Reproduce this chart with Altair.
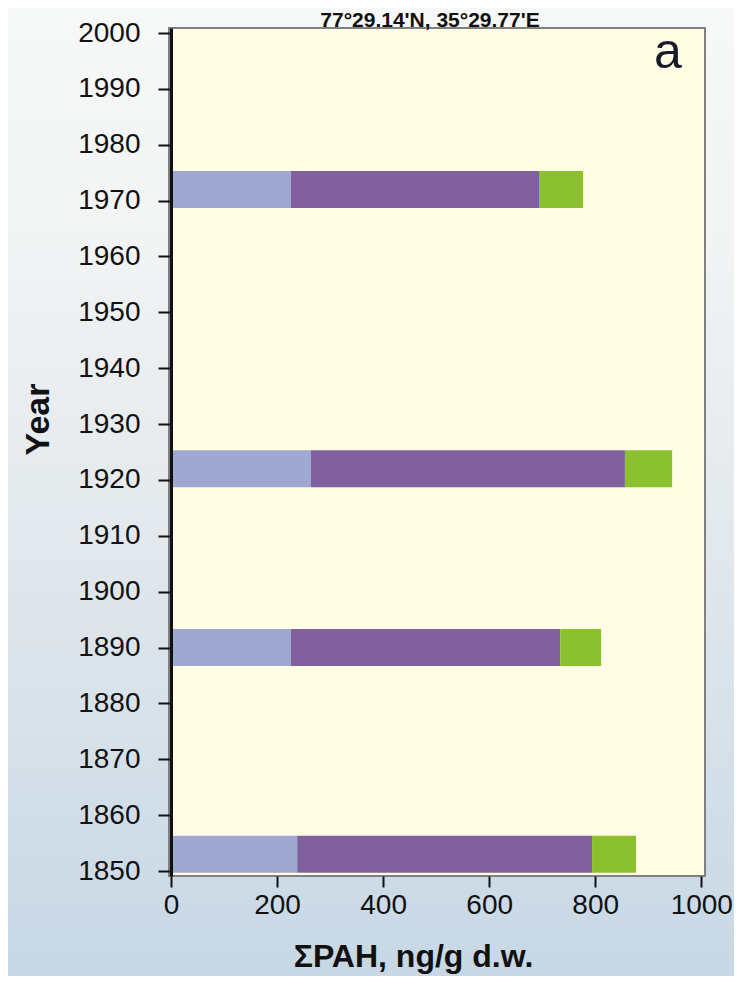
import altair as alt
import pandas as pd

# ---- data ----
years = [1972, 1922, 1890, 1853]
components = ["2-3 ring", "4 ring", "5-6 ring"]
light_vals = [226, 264, 226, 238]
purple_vals = [468, 592, 508, 556]
green_vals = [83, 89, 77, 83]
comp_colors = ["#9FA9CF", "#80619E", "#8BC02F"]
x_ticks = [0, 200, 400, 600, 800, 1000]
y_ticks = list(range(1850, 2001, 10))
title_text = "77°29.14'N, 35°29.77'E"
panel_label = "a"

rows = []
for i, yr in enumerate(years):
    start = 0
    for comp, vals in zip(components, [light_vals, purple_vals, green_vals]):
        rows.append({"year": yr, "component": comp, "start": start, "end": start + vals[i]})
        start += vals[i]
df = pd.DataFrame(rows)

W, H = 534, 848
FONT = "Liberation Sans"
one = alt.Data(values=[{}])

bg = alt.Chart(one).mark_rect(
    color=alt.Gradient(
        gradient="linear",
        stops=[
            alt.GradientStop(color="#F7F8F8", offset=0),
            alt.GradientStop(color="#F1F3F4", offset=0.25),
            alt.GradientStop(color="#E2E8EC", offset=0.55),
            alt.GradientStop(color="#C6D7E5", offset=1),
        ],
        x1=0, x2=0, y1=0, y2=1,
    )
).encode(x=alt.value(-175), x2=alt.value(570), y=alt.value(-25), y2=alt.value(960))

plotbg = alt.Chart(one).mark_rect(
    fill="#FFFDE3", stroke="#808080", strokeWidth=2
).encode(x=alt.value(-2), x2=alt.value(W), y=alt.value(0), y2=alt.value(H))

bars = alt.Chart(df).mark_bar(size=37, clip=True).encode(
    x=alt.X(
        "start:Q",
        scale=alt.Scale(domain=[0, 1007], nice=False, zero=False),
        axis=alt.Axis(
            values=x_ticks, format="d", title="ΣPAH, ng/g d.w.",
            labelFont=FONT, labelFontSize=28, labelColor="#111111",
            labelPadding=4, labelFlush=False, labelOverlap=False,
            tickSize=11, tickWidth=2, tickColor="#111111",
            domain=False, grid=False,
            titleFont=FONT, titleFontSize=32, titleFontWeight="bold", titleColor="#111111",
            titleX=242, titleY=90, titleBaseline="alphabetic", titleAlign="center",
            zindex=1,
        ),
    ),
    x2="end:Q",
    y=alt.Y(
        "year:Q",
        scale=alt.Scale(domain=[1850, 2000], nice=False, zero=False),
        axis=alt.Axis(
            values=y_ticks, format="d", title="Year",
            labelFont=FONT, labelFontSize=28, labelColor="#111111",
            labelPadding=18, labelFlush=False, labelOverlap=False,
            tickSize=13, tickWidth=2, tickColor="#111111",
            domain=True, domainColor="#111111", domainWidth=3,
            grid=False,
            titleFont=FONT, titleFontSize=34, titleFontWeight="bold", titleColor="#111111",
            titleAngle=270, titleX=-123, titleY=391, titleBaseline="alphabetic",
            titleAlign="center",
            zindex=1,
        ),
    ),
    color=alt.Color(
        "component:N",
        scale=alt.Scale(domain=components, range=comp_colors),
        legend=None,
    ),
)

title_mark = alt.Chart(one).mark_text(
    font=FONT, fontSize=21, fontWeight="bold", color="#111111",
    align="center", baseline="alphabetic",
).encode(x=alt.value(259), y=alt.value(-1), text=alt.value(title_text))

a_mark = alt.Chart(one).mark_text(
    font=FONT, fontSize=50, color="#1a1a2a",
    align="center", baseline="alphabetic",
).encode(x=alt.value(497), y=alt.value(40), text=alt.value(panel_label))

chart = alt.layer(bg, plotbg, bars, title_mark, a_mark).properties(
    width=W,
    height=H,
    autosize=alt.AutoSizeParams(type="none"),
    padding={"left": 163, "top": 20, "right": 29, "bottom": 100},
).configure_view(stroke="transparent")

chart.save("out.html", embed_options={"renderer": "svg", "actions": False})
